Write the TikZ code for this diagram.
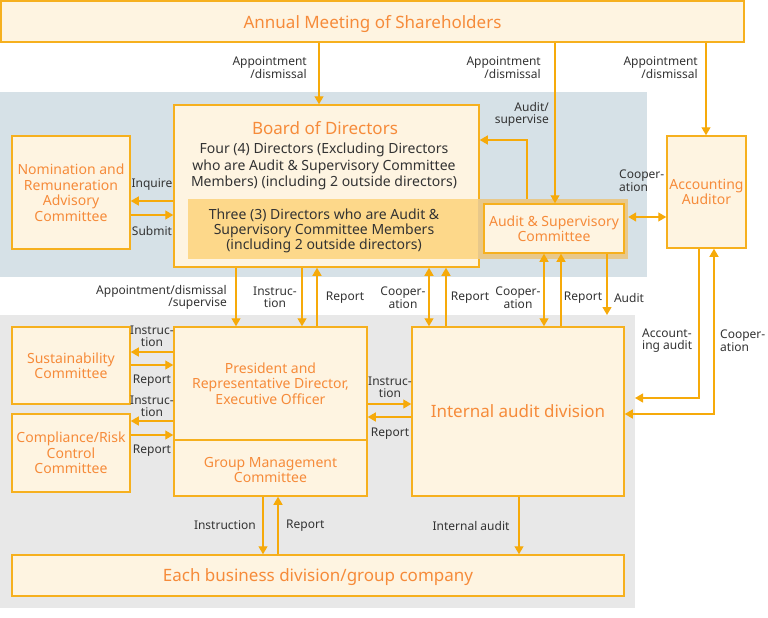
\documentclass[tikz,border=0pt]{standalone}
\usepackage{fontspec}
\setmainfont{Noto Sans}
\usetikzlibrary{arrows.meta}
\definecolor{bluebg}{HTML}{D6E1E7}
\definecolor{greybg}{HTML}{E8E8E8}
\definecolor{cream}{HTML}{FEF4E1}
\definecolor{bordc}{HTML}{F6B01E}
\definecolor{arrc}{HTML}{F6AA0A}
\definecolor{orangec}{HTML}{F68B3A}
\definecolor{innerc}{HTML}{FDD88A}
\definecolor{haloc}{HTML}{E8C88A}
\definecolor{labc}{HTML}{333333}
\tikzset{
  box/.style={draw=bordc, line width=1.5pt, fill=cream, text=orangec, align=center, inner sep=0pt, text depth=0pt, font=\fontsize{14}{15.5}\selectfont},
  bigtxt/.style={font=\fontsize{17}{19}\selectfont},
  intxt/.style={align=center, inner sep=0pt, yshift=-1.5pt},
  lbl/.style={text=labc, font=\fontsize{12}{12.5}\selectfont, align=center, inner sep=0pt, yshift=-1.5pt},
  tip/.tip={Triangle[length=8pt,width=9pt]},
  arr/.style={draw=arrc, line width=1.3pt, -tip},
  arrtwo/.style={draw=arrc, line width=1.3pt, tip-tip},
}
\begin{document}
\begin{tikzpicture}[x=1pt,y=-1pt]
\useasboundingbox (0,0) rectangle (768,618);
% backgrounds
\fill[bluebg] (0,92) rectangle (647,277);
\fill[greybg] (0,315) rectangle (635,608);
% boxes
\node[box, bigtxt, minimum width=743, minimum height=41] (ams) at (372.5,21.5) {Annual Meeting of Shareholders};
\node[box, minimum width=305, minimum height=162] (bod) at (326.5,186) {};
\fill[innerc] (188,199) rectangle (478.2,259);
\node[intxt, text=orangec, bigtxt] (bodt) at (325,127) {Board of Directors};
\node[intxt, text=labc, font=\fontsize{14}{16.5}\selectfont] (bodf) at (324,165) {Four (4) Directors (Excluding Directors\\who are Audit \& Supervisory Committee\\Members) (including 2 outside directors)};
\node[intxt, text=labc, font=\fontsize{14}{15}\selectfont] (bodi) at (324,229) {Three (3) Directors who are Audit \&\\Supervisory Committee Members\\(including 2 outside directors)};
\node[fill=haloc, minimum width=150, minimum height=60, inner sep=0pt] (halo) at (553,229) {};
\node[box, minimum width=140, minimum height=49] (asc) at (554,228.5) {Audit \& Supervisory\\Committee};
\node[box, minimum width=79, minimum height=112] (aa) at (706.5,192) {Accounting\\Auditor};
\node[box, minimum width=118, minimum height=113] (nom) at (71,192.5) {Nomination and\\Remuneration\\Advisory\\Committee};
\node[box, minimum width=118, minimum height=77] (sus) at (71,365.5) {Sustainability\\Committee};
\node[box, minimum width=118, minimum height=78] (crc) at (71,453) {Compliance/Risk\\Control\\Committee};
\node[box, minimum width=193, minimum height=169] (pres) at (270.5,411.5) {};
\draw[bordc, line width=1.5pt] (pres.west |- 0,440) -- (pres.east |- 0,440);
\node[intxt, text=orangec, font=\fontsize{14}{15.5}\selectfont] (prest) at (270.5,382) {President and\\Representative Director,\\Executive Officer};
\node[intxt, text=orangec, font=\fontsize{14}{15.5}\selectfont] (gmc) at (270.5,468.5) {Group Management\\Committee};
\node[box, bigtxt, minimum width=212, minimum height=169] (iad) at (518,411.5) {Internal audit division};
\node[box, bigtxt, minimum width=612, minimum height=41] (ebd) at (318,575.5) {Each business division/group company};
\coordinate (auditend) at (607,315);
\coordinate (accend) at (635,398);
% arrows
\draw[arr] (319,0 |- ams.south) -- (319,0 |- bod.north);
\draw[arr] (555,0 |- ams.south) -- (555,0 |- asc.north);
\draw[arr] (706,0 |- ams.south) -- (706,0 |- aa.north);
\draw[arr] (527,0 |- halo.north) -- (527,140) -- (bod.east |- 0,140);
\draw[arrtwo] (halo.east |- 0,217) -- (aa.west |- 0,217);
\draw[arr] (bod.west |- 0,201) -- (nom.east |- 0,201);
\draw[arr] (nom.east |- 0,215) -- (bod.west |- 0,215);
\draw[arr] (236,0 |- bod.south) -- (236,0 |- pres.north);
\draw[arr] (302,0 |- bod.south) -- (302,0 |- pres.north);
\draw[arr] (317,0 |- pres.north) -- (317,0 |- bod.south);
\draw[arrtwo] (429,0 |- bod.south) -- (429,0 |- iad.north);
\draw[arr] (446,0 |- iad.north) -- (446,0 |- bod.south);
\draw[arrtwo] (544,0 |- asc.south) -- (544,0 |- iad.north);
\draw[arr] (561,0 |- iad.north) -- (561,0 |- asc.south);
\draw[arr] (607,0 |- asc.south) -- (auditend);
\draw[arr] (699,0 |- aa.south) -- (699,398) -- (accend);
\draw[arrtwo] (714,0 |- aa.south) -- (714,414) -- (iad.east |- 0,414);
\draw[arr] (pres.east |- 0,404) -- (iad.west |- 0,404);
\draw[arr] (iad.west |- 0,417) -- (pres.east |- 0,417);
\draw[arr] (pres.west |- 0,352) -- (sus.east |- 0,352);
\draw[arr] (sus.east |- 0,365) -- (pres.west |- 0,365);
\draw[arr] (pres.west |- 0,421) -- (crc.east |- 0,421);
\draw[arr] (crc.east |- 0,435) -- (pres.west |- 0,435);
\draw[arr] (263,0 |- pres.south) -- (263,0 |- ebd.north);
\draw[arr] (278,0 |- ebd.north) -- (278,0 |- pres.south);
\draw[arr] (519,0 |- iad.south) -- (519,0 |- ebd.north);
% labels
\node[lbl, align=right, anchor=east] (l1) at (307,66) {Appointment\\/dismissal};
\node[lbl, align=right, anchor=east] (l2) at (541,66) {Appointment\\/dismissal};
\node[lbl, align=right, anchor=east] (l3) at (698,66) {Appointment\\/dismissal};
\node[lbl, align=right, anchor=east] (l4) at (549,113) {Audit/\\supervise};
\node[lbl, align=left, anchor=west] (l5) at (619,179) {Cooper-\\ation};
\node[lbl] (l6) at (152,183) {Inquire};
\node[lbl] (l7) at (152,229) {Submit};
\node[lbl, align=right, anchor=east] (l8) at (227,296) {Appointment/dismissal\\/supervise};
\node[lbl] (l9) at (275,296) {Instruc-\\tion};
\node[lbl] (l10) at (345,296) {Report};
\node[lbl] (l11) at (403,296) {Cooper-\\ation};
\node[lbl] (l12) at (470,296) {Report};
\node[lbl] (l13) at (518,296) {Cooper-\\ation};
\node[lbl] (l14) at (583,296) {Report};
\node[lbl] (l15) at (629,296) {Audit};
\node[lbl, align=left, anchor=west] (l16) at (642,339) {Account-\\ing audit};
\node[lbl, align=left, anchor=west] (l17) at (720,339) {Cooper-\\ation};
\node[lbl] (l18) at (390,386) {Instruc-\\tion};
\node[lbl] (l19) at (390,432) {Report};
\node[lbl] (l20) at (152,335) {Instruc-\\tion};
\node[lbl] (l21) at (152,379) {Report};
\node[lbl] (l22) at (152,405) {Instruc-\\tion};
\node[lbl] (l23) at (152,449) {Report};
\node[lbl, anchor=east] (l24) at (256,524) {Instruction};
\node[lbl, anchor=west] (l25) at (286,524) {Report};
\node[lbl] (l26) at (471,524) {Internal audit};
\end{tikzpicture}
\end{document}
